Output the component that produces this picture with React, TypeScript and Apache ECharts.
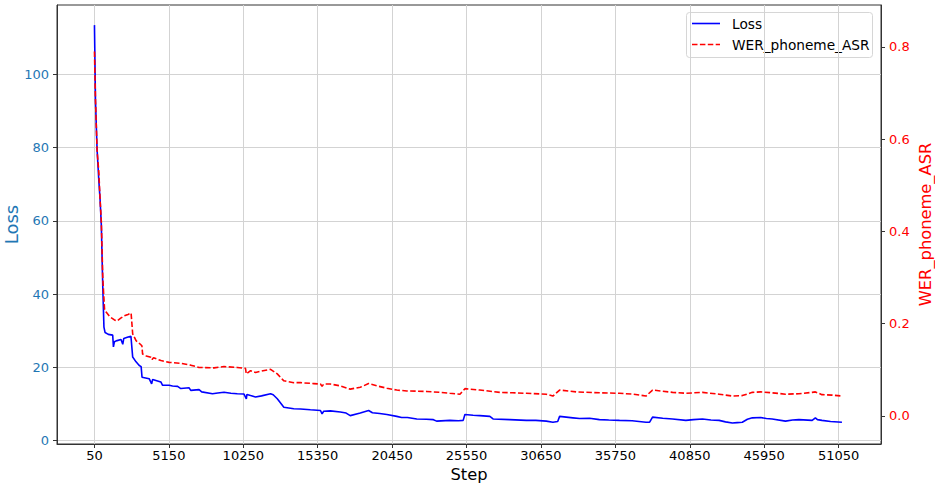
import React, { useEffect, useRef } from "react";
import * as echarts from "echarts";

const xTicks = [50, 5150, 10250, 15350, 20450, 25550, 30650, 35750, 40850, 45950, 51050];
const lossTicks = [0, 20, 40, 60, 80, 100];
const werTicks = [0, 0.2, 0.4, 0.6, 0.8];

const lossSteps = [
  50, 120, 230, 350, 440, 520, 620, 700, 780, 1000, 1300, 1350, 1420, 1600, 1870, 1990, 2060, 2300, 2550, 2670,
  2900, 3120, 3250, 3310, 3800, 3970, 4040, 4600, 4720, 5170, 5400, 5750, 5970, 6540, 6650, 7220, 7400, 8140, 8500, 8930,
  9400, 9840, 10300, 10460, 10500, 10750, 11090, 11500, 12120, 12300, 12580, 13030, 13710, 14170, 14850, 15540, 15650, 15760, 16220, 16900,
  17300, 17580, 18270, 18840, 19100, 19600, 20090, 20770, 21100, 21500, 22140, 22800, 23280, 23500, 24410, 25000, 25320, 25440, 26000, 26460,
  27150, 27370, 28510, 29650, 30300, 31020, 31470, 31800, 31930, 32840, 33300, 33980, 34660, 35300, 36030, 36900, 37850, 38100, 38300, 39000,
  39670, 40580, 41100, 41720, 42300, 42860, 43300, 43770, 44100, 44450, 44800, 45140, 45710, 46100, 46500, 47410, 47900, 48330, 49240, 49460,
  49600, 49910, 50500, 51280,
];
const lossValues = [
  113.5, 93, 79.5, 71, 65.5, 59, 42, 31, 29.5, 29, 28.8, 25.6, 27, 27.3, 27.6, 26.3, 27.9, 28.2, 28.5, 22.8,
  21.5, 20.5, 20.2, 17.3, 16.9, 15.5, 16.7, 16.0, 15.1, 15.1, 14.9, 14.8, 14.2, 14.4, 13.7, 13.9, 13.3, 12.8, 13.0, 13.2,
  12.9, 12.8, 12.7, 11.4, 12.6, 12.3, 11.9, 12.2, 12.8, 12.5, 11.4, 9.1, 8.7, 8.6, 8.4, 8.2, 7.3, 8.0, 8.1, 7.8,
  7.5, 6.8, 7.5, 8.2, 7.6, 7.4, 7.1, 6.6, 6.3, 6.3, 5.9, 5.8, 5.7, 5.3, 5.5, 5.4, 5.5, 7.1, 6.9, 6.8,
  6.6, 5.9, 5.7, 5.5, 5.5, 5.3, 5.0, 5.2, 6.6, 6.2, 6.0, 6.1, 5.7, 5.6, 5.5, 5.4, 5.0, 5.0, 6.4, 6.1,
  5.9, 5.5, 5.7, 5.9, 5.6, 5.5, 5.1, 4.8, 4.9, 5.0, 5.8, 6.2, 6.3, 6.0, 5.9, 5.3, 5.6, 5.7, 5.5, 6.2,
  5.7, 5.5, 5.2, 5.0,
];

const werSteps = [
  50, 120, 230, 350, 440, 520, 620, 680, 740, 850, 1100, 1420, 1600, 1850, 2100, 2350, 2560, 2670, 2900, 3100,
  3300, 3350, 3600, 3920, 4000, 4100, 4610, 5170, 5970, 6650, 7220, 8250, 8930, 9840, 10400, 10460, 10750, 11090, 11600, 12120,
  12580, 13030, 13710, 14170, 15080, 15540, 15650, 15760, 16220, 16900, 17580, 18270, 18840, 19410, 20090, 20770, 21460, 22820, 23730, 24400,
  25100, 25440, 26460, 27830, 28700, 29650, 31020, 31470, 31930, 33070, 34660, 36030, 37000, 37850, 38300, 39670, 40580, 41720, 42860, 43770,
  44450, 45140, 45710, 46500, 47410, 48330, 49240, 49460, 49910, 50600, 51280,
];
const werValues = [
  0.79, 0.685, 0.576, 0.528, 0.467, 0.422, 0.3, 0.265, 0.232, 0.225, 0.215, 0.208, 0.206, 0.212, 0.217, 0.22, 0.223, 0.178, 0.163, 0.158,
  0.152, 0.134, 0.13, 0.127, 0.122, 0.126, 0.12, 0.116, 0.114, 0.11, 0.105, 0.104, 0.107, 0.105, 0.103, 0.091, 0.098, 0.094, 0.098, 0.101,
  0.091, 0.076, 0.072, 0.072, 0.07, 0.069, 0.064, 0.069, 0.069, 0.065, 0.058, 0.062, 0.07, 0.065, 0.06, 0.056, 0.054, 0.053, 0.051, 0.049,
  0.047, 0.059, 0.056, 0.051, 0.05, 0.049, 0.047, 0.043, 0.056, 0.052, 0.05, 0.049, 0.047, 0.043, 0.056, 0.051, 0.049, 0.051, 0.047, 0.043,
  0.044, 0.051, 0.052, 0.05, 0.047, 0.048, 0.051, 0.052, 0.046, 0.045, 0.043,
];

const FONT = "DejaVu Sans";
const SPINE = "#333333";
const GRID = "#d3d3d3";
const LOSS_COLOR = "#1f77b4";
const WER_COLOR = "#ff0000";

export default function App() {
  const ref = useRef<HTMLDivElement>(null);

  useEffect(() => {
    if (!ref.current) return;
    const chart = echarts.init(ref.current, undefined, { renderer: "svg" });
    const lossData = lossSteps.map((s, i) => [s, lossValues[i]]);
    const werData = werSteps.map((s, i) => [s, werValues[i]]);

    chart.setOption({
      animation: false,
      backgroundColor: "#ffffff",
      textStyle: { fontFamily: FONT },
      grid: {
        left: 57,
        top: 5,
        width: 824,
        height: 439,
        show: true,
        borderColor: SPINE,
        borderWidth: 1,
        backgroundColor: "transparent",
        outerBoundsMode: "none",
        containLabel: false,
      },
      xAxis: {
        type: "value",
        min: -2517,
        max: 53957,
        axisLine: { show: true, onZero: false, lineStyle: { color: SPINE, width: 1 } },
        axisTick: { show: true, customValues: xTicks, length: 4, lineStyle: { color: SPINE } },
        axisLabel: {
          customValues: xTicks,
          fontFamily: FONT,
          fontSize: 13,
          color: "#000",
          margin: 5,
          formatter: (v: number) => String(v),
        },
        splitLine: { show: true, lineStyle: { color: GRID, width: 1 } },
      },
      yAxis: [
        {
          type: "value",
          position: "left",
          min: -0.95,
          max: 119,
          axisLine: { show: true, onZero: false, lineStyle: { color: SPINE, width: 1 } },
          axisTick: { show: true, customValues: lossTicks, length: 4, lineStyle: { color: SPINE } },
          axisLabel: {
            customValues: lossTicks,
            fontFamily: FONT,
            fontSize: 13,
            color: LOSS_COLOR,
            margin: 8,
            formatter: (v: number) => String(v),
          },
          splitLine: { show: true, lineStyle: { color: GRID, width: 1 } },
        },
        {
          type: "value",
          position: "right",
          min: -0.061,
          max: 0.891,
          axisLine: { show: true, onZero: false, lineStyle: { color: SPINE, width: 1 } },
          axisTick: { show: true, customValues: werTicks, length: 4, lineStyle: { color: SPINE } },
          axisLabel: {
            customValues: werTicks,
            fontFamily: FONT,
            fontSize: 13,
            color: WER_COLOR,
            margin: 8,
            formatter: (v: number) => v.toFixed(1),
          },
          splitLine: { show: false },
        },
      ],
      series: [
        {
          name: "Loss",
          type: "line",
          yAxisIndex: 0,
          data: lossData,
          showSymbol: false,
          symbol: "none",
          lineStyle: { color: "#0000ff", width: 1.6 },
          z: 3,
        },
        {
          name: "WER_phoneme_ASR",
          type: "line",
          yAxisIndex: 1,
          data: werData,
          showSymbol: false,
          symbol: "none",
          lineStyle: { color: WER_COLOR, width: 1.6, type: [5.5, 2.4] },
          z: 4,
        },
      ],
      graphic: [
        {
          type: "text",
          x: 469,
          y: 474,
          style: { text: "Step", fontFamily: FONT, fontSize: 16.3, fill: "#000", align: "center", verticalAlign: "middle" },
        },
        {
          type: "text",
          x: 11,
          y: 224.5,
          rotation: Math.PI / 2,
          style: { text: "Loss", fontFamily: FONT, fontSize: 18, fill: LOSS_COLOR, align: "center", verticalAlign: "middle" },
        },
        {
          type: "text",
          x: 925,
          y: 224.5,
          rotation: Math.PI / 2,
          style: { text: "WER_phoneme_ASR", fontFamily: FONT, fontSize: 16.3, fill: WER_COLOR, align: "center", verticalAlign: "middle" },
        },
        {
          type: "group",
          z: 100,
          children: [
            {
              type: "rect",
              shape: { x: 686.5, y: 12.5, width: 186, height: 45, r: 3 },
              style: { fill: "rgba(255,255,255,0.85)", stroke: "#d6d6d6", lineWidth: 1 },
            },
            {
              type: "line",
              shape: { x1: 692, y1: 23.5, x2: 720, y2: 23.5 },
              style: { stroke: "#0000ff", lineWidth: 1.6 },
            },
            {
              type: "text",
              x: 732,
              y: 23.5,
              style: { text: "Loss", fontFamily: FONT, fontSize: 13.7, fill: "#000", verticalAlign: "middle" },
            },
            {
              type: "line",
              shape: { x1: 692, y1: 44.5, x2: 720, y2: 44.5 },
              style: { stroke: WER_COLOR, lineWidth: 1.6, lineDash: [5.5, 2.4] },
            },
            {
              type: "text",
              x: 732,
              y: 44.5,
              style: { text: "WER_phoneme_ASR", fontFamily: FONT, fontSize: 13.7, fill: "#000", verticalAlign: "middle" },
            },
          ],
        },
      ],
    });

    return () => chart.dispose();
  }, []);

  return (
    <div
      ref={ref}
      style={{ position: "absolute", left: 0, top: 0, width: 935, height: 488, background: "#fff" }}
    />
  );
}
